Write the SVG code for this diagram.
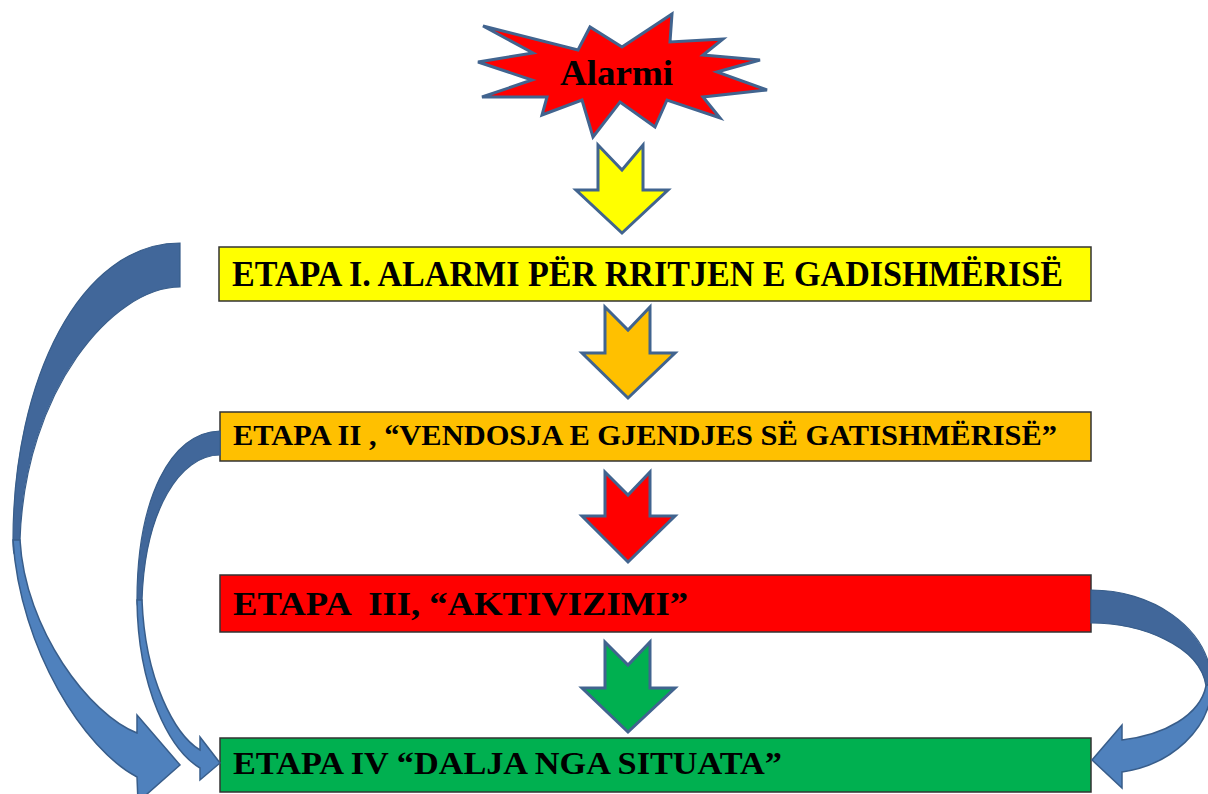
<svg xmlns="http://www.w3.org/2000/svg" width="1208" height="794" viewBox="0 0 1208 794">
<style>
.box{stroke:#333;stroke-width:1.5}
.lbl{font-family:"Liberation Serif","Times New Roman",serif;font-weight:bold;fill:#000;white-space:pre}
.down{stroke:#41648F;stroke-width:3;stroke-linejoin:miter}
.back{fill:#41679A;stroke:#385D8A;stroke-width:1.2}
.front{fill:#4F81BD;stroke:#385D8A;stroke-width:1.5}
</style>
<rect width="1208" height="794" fill="#fff"/>
<g id="alarmi">
<polygon points="483,26 578,50 590,27 622,47 672,14 670,42 723,39 703,55 760,60 717,72 767,90 703,97 720,118 667,100 655,127 620,102 593,137 582,100 542,115 547,97 482,97 532,80 478,62 533,53" fill="#FF0000" stroke="#41648F" stroke-width="3" stroke-linejoin="miter"/>
<text class="lbl" x="560" y="85" font-size="35" textLength="113" lengthAdjust="spacingAndGlyphs">Alarmi</text>
</g>
<g id="etapa1">
<rect class="box" x="219" y="247" width="872" height="54" fill="#FFFF00"/>
<text class="lbl" x="232" y="286" font-size="35" textLength="831" lengthAdjust="spacingAndGlyphs">ETAPA I. ALARMI PËR RRITJEN E GADISHMËRISË</text>
</g>
<g id="etapa2">
<rect class="box" x="220" y="412" width="871" height="49" fill="#FFC000"/>
<text class="lbl" x="233" y="445" font-size="29" textLength="824" lengthAdjust="spacingAndGlyphs">ETAPA II , “VENDOSJA E GJENDJES SË GATISHMËRISË”</text>
</g>
<g id="etapa3">
<rect class="box" x="220" y="575" width="871" height="57" fill="#FF0000"/>
<text class="lbl" x="233" y="615" font-size="33" textLength="455" lengthAdjust="spacingAndGlyphs" xml:space="preserve">ETAPA  III, “AKTIVIZIMI”</text>
</g>
<g id="etapa4">
<rect class="box" x="220" y="738" width="871" height="54" fill="#00B050"/>
<text class="lbl" x="233" y="774" font-size="32" textLength="549" lengthAdjust="spacingAndGlyphs">ETAPA IV “DALJA NGA SITUATA”</text>
</g>
<g id="connectors">
<polygon class="down" fill="#FFFF00" points="598,145 622,170 643,145 643,190 668,190 622,233 576,190 598,190"/>
<polygon class="down" fill="#FFC000" points="605,307 628,330 650,307 650,353 675,353 628,398 582,353 605,353"/>
<polygon class="down" fill="#FF0000" points="605,472 628,495 650,472 650,516 675,516 628,562 582,516 605,516"/>
<polygon class="down" fill="#00B050" points="605,642 628,665 650,642 650,688 675,688 628,732 582,688 605,688"/>
<path class="back" d="M180,243 L180,287 C113,287 25,390 20,540 C16,560 13,560 13,540 C13,380 80,243 180,243 Z"/>
<path class="front" d="M13,540 C20,650 85,750 137,777 L138,802 L180,765 L137,715 L137,733 C90,715 25,630 20,540 Z"/>
<path class="back" d="M220,431 L220,455 C180,455 145,510 142,600 C140,610 137,610 137,600 C137,500 170,432 220,431 Z"/>
<path class="front" d="M137,600 C138,690 170,750 200,768 L200,780 L220,763 L200,737 L200,750 C175,735 145,680 142,600 Z"/>
<path class="back" d="M1091,590 C1150,590 1208,625 1212,682 L1206,686 C1200,645 1140,623 1091,623 Z"/>
<path class="front" d="M1212,682 C1212,730 1170,765 1122,772 L1122,788 L1092,760 L1122,725 L1122,740 C1165,735 1200,715 1206,686 Z"/>
</g>
</svg>
